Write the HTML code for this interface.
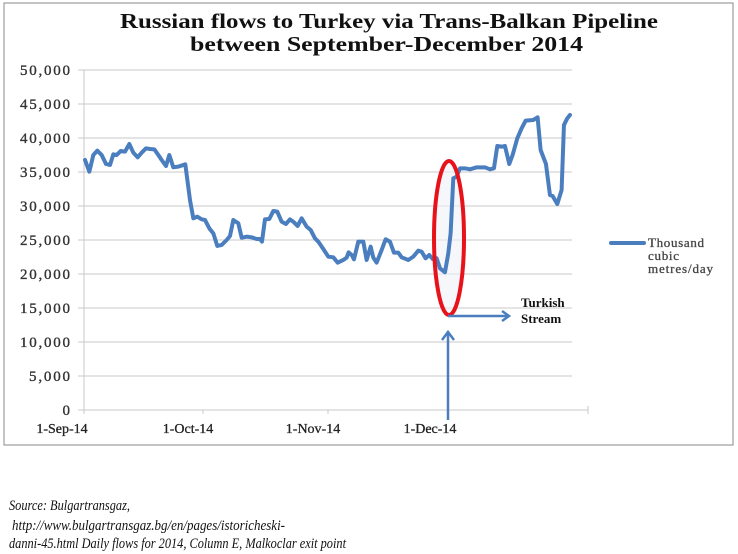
<!DOCTYPE html>
<html><head><meta charset="utf-8"><style>
html,body{margin:0;padding:0;background:#fff;}
svg{display:block;}
</style></head><body>
<svg width="738" height="554" viewBox="0 0 738 554" xmlns="http://www.w3.org/2000/svg">
<rect x="4" y="3" width="729" height="442" fill="#fff" stroke="#8a8a8a" stroke-width="1"/>
<g font-family="Liberation Serif, serif" font-weight="bold" font-size="21" fill="#111">
<text x="120" y="28" textLength="538" lengthAdjust="spacingAndGlyphs">Russian flows to Turkey via Trans-Balkan Pipeline</text>
<text x="190" y="51" textLength="393" lengthAdjust="spacingAndGlyphs">between September-December 2014</text>
</g>
<g stroke="#c8c8c8" stroke-width="1">
<line x1="78" y1="70" x2="572" y2="70"/><line x1="78" y1="104" x2="572" y2="104"/>
<line x1="78" y1="138" x2="572" y2="138"/><line x1="78" y1="172" x2="572" y2="172"/>
<line x1="78" y1="206" x2="572" y2="206"/><line x1="78" y1="240" x2="572" y2="240"/>
<line x1="78" y1="274" x2="572" y2="274"/><line x1="78" y1="308" x2="572" y2="308"/>
<line x1="78" y1="342" x2="572" y2="342"/><line x1="78" y1="376" x2="572" y2="376"/>
<line x1="78" y1="410" x2="588" y2="410"/>
<line x1="84" y1="70" x2="84" y2="414"/>
<line x1="203" y1="410" x2="203" y2="414"/><line x1="328" y1="410" x2="328" y2="414"/>
<line x1="448" y1="410" x2="448" y2="414"/><line x1="588" y1="406" x2="588" y2="414"/>
</g>
<g font-family="Liberation Serif, serif" font-size="15" text-anchor="end" fill="#333" stroke="#333" stroke-width="0.35" lengthAdjust="spacingAndGlyphs">
<text x="70" y="75" textLength="50">50,000</text><text x="70" y="109" textLength="50">45,000</text><text x="70" y="143" textLength="50">40,000</text>
<text x="70" y="177" textLength="50">35,000</text><text x="70" y="211" textLength="50">30,000</text><text x="70" y="245" textLength="50">25,000</text>
<text x="70" y="279" textLength="50">20,000</text><text x="70" y="313" textLength="50">15,000</text><text x="70" y="347" textLength="50">10,000</text>
<text x="70" y="381" textLength="41">5,000</text><text x="70" y="415">0</text>
</g>
<g font-family="Liberation Serif, serif" font-size="14" text-anchor="middle" fill="#222" stroke="#222" stroke-width="0.3">
<text x="62" y="433">1-Sep-14</text><text x="188" y="433">1-Oct-14</text>
<text x="313" y="433">1-Nov-14</text><text x="430" y="433">1-Dec-14</text>
</g>
<ellipse cx="449" cy="238" rx="15" ry="78" fill="#eef2f8" fill-opacity="0.6" stroke="none"/>
<g transform="translate(60,60) scale(0.3333)">
<polyline fill="none" stroke="#4a7ebf" stroke-width="12" stroke-linejoin="round" stroke-linecap="round" points="75,300 88,335 100,285 112,272 125,285 138,312 150,315 160,283 170,285 182,273 195,275 208,252 220,278 233,292 245,278 258,265 270,267 283,268 295,285 305,300 318,318 328,285 340,322 355,320 376,313 390,420 400,475 412,470 425,478 435,480 448,505 460,520 472,558 485,555 500,540 510,528 520,480 535,490 545,533 560,530 575,532 590,537 600,537 606,545 615,478 628,477 640,453 652,455 665,485 678,492 690,478 702,487 713,498 725,475 740,500 752,510 765,535 775,545 790,567 805,590 820,592 833,608 850,600 860,593 866,577 875,585 882,598 895,545 910,545 920,600 932,560 940,593 950,608 965,570 977,538 990,545 1002,578 1015,578 1025,592 1045,600 1060,590 1075,572 1085,575 1097,595 1108,585 1118,597 1130,595 1140,625 1155,637 1165,580 1172,520 1180,355 1190,350 1200,325 1215,325 1230,328 1250,322 1275,322 1290,328 1302,325 1312,258 1325,260 1335,258 1348,312 1358,285 1372,235 1385,205 1397,182 1420,180 1433,172 1442,270 1458,312 1470,405 1478,408 1492,432 1505,390 1512,195 1522,175 1530,165"/>
</g>
<ellipse cx="449" cy="238" rx="15" ry="77" fill="none" stroke="#e8121b" stroke-width="4"/>
<g stroke="#4a7ebf" stroke-width="2.5" fill="none">
<line x1="448" y1="420" x2="448" y2="334"/>
<polyline points="442,340 448,332 454,340"/>
<line x1="448" y1="316" x2="508" y2="316"/>
<polyline points="502,311 509,316 502,321"/>
</g>
<g font-family="Liberation Serif, serif" font-weight="bold" font-size="13" fill="#111">
<text x="521" y="307">Turkish</text><text x="521" y="323">Stream</text>
</g>
<line x1="611" y1="243" x2="644" y2="243" stroke="#4a7ebf" stroke-width="4" stroke-linecap="round"/>
<g font-family="Liberation Serif, serif" font-size="13" fill="#444" stroke="#444" stroke-width="0.3" lengthAdjust="spacingAndGlyphs">
<text x="648" y="247" textLength="56">Thousand</text><text x="648" y="260" textLength="31">cubic</text><text x="648" y="273" textLength="65">metres/day</text>
</g>
<g font-family="Liberation Serif, serif" font-style="italic" font-size="15" fill="#111">
<text x="9" y="510" textLength="121" lengthAdjust="spacingAndGlyphs">Source: Bulgartransgaz,</text>
<text x="12" y="530" textLength="273" lengthAdjust="spacingAndGlyphs">http://www.bulgartransgaz.bg/en/pages/istoricheski-</text>
<text x="9" y="548" textLength="337" lengthAdjust="spacingAndGlyphs">danni-45.html Daily flows for 2014, Column E, Malkoclar exit point</text>
</g>
</svg>
</body></html>
